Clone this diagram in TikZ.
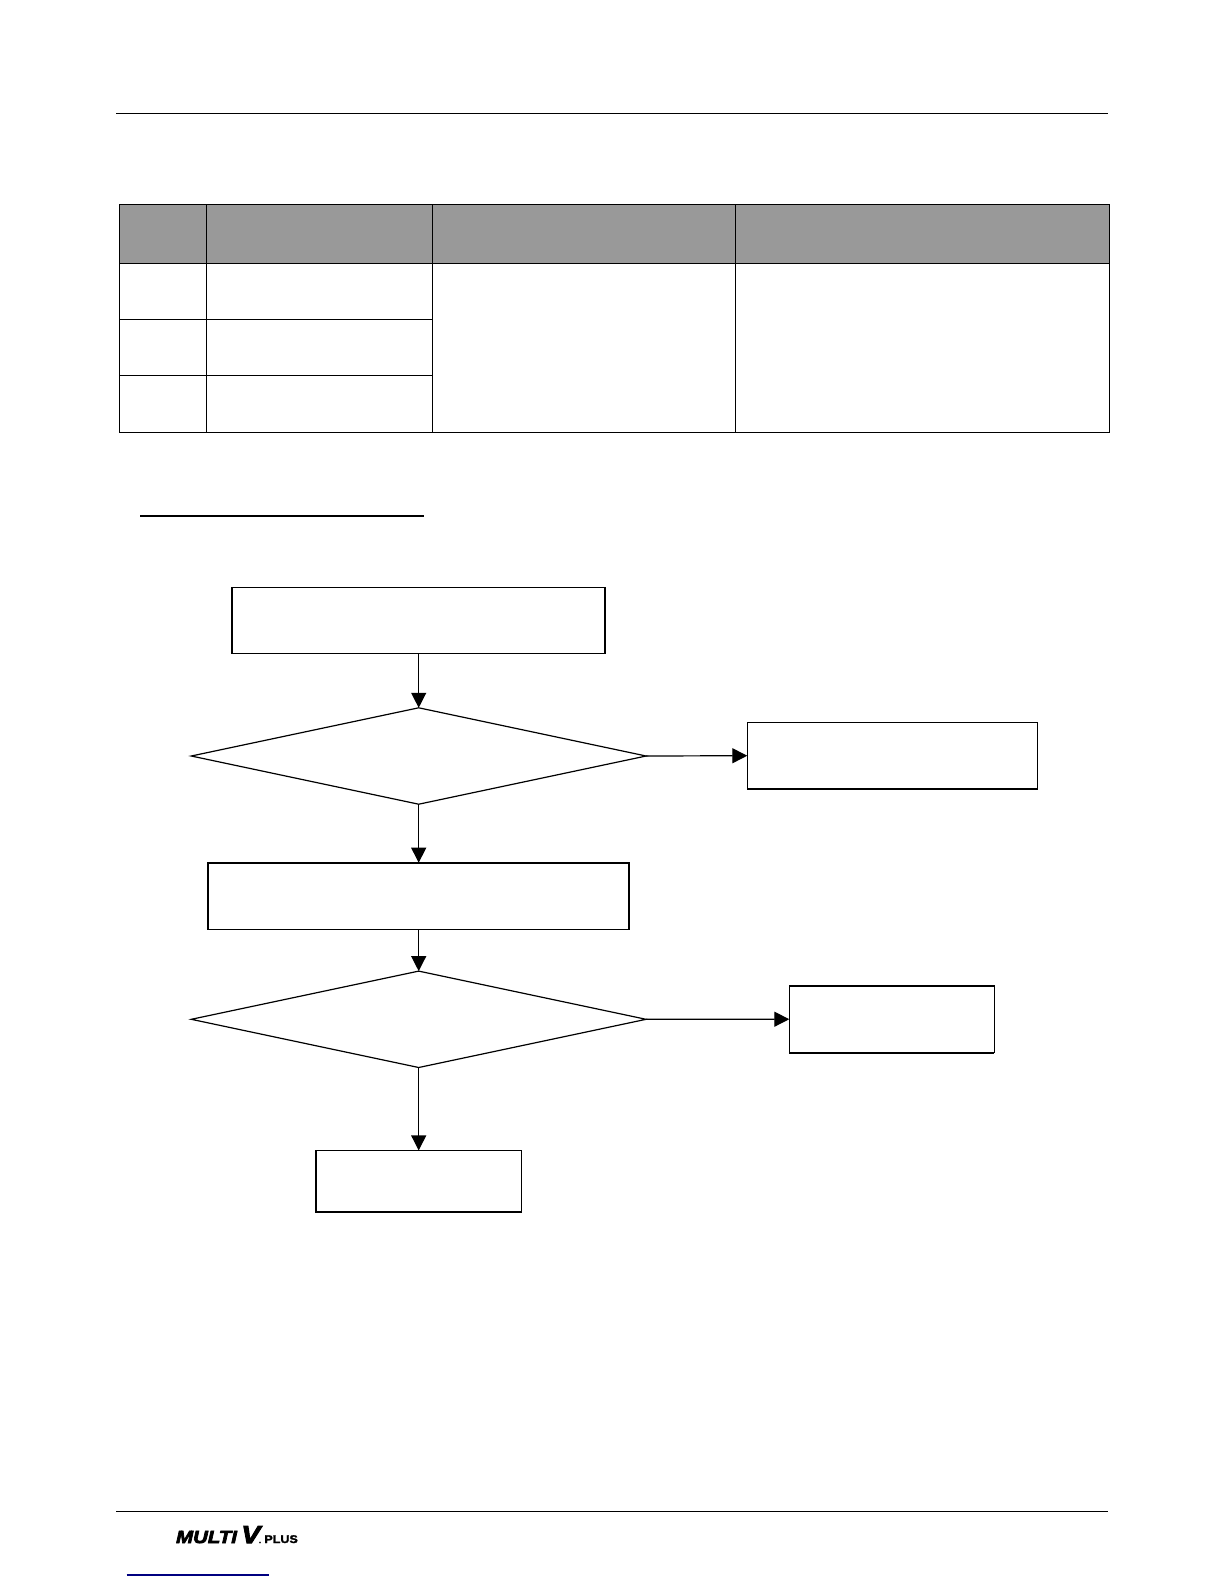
\documentclass[tikz,border=0pt]{standalone}
\usepackage{fontspec}
\setmainfont{Liberation Sans}
\newfontfamily\logofont[BoldItalicFeatures={FakeBold=4,FakeStretch=1.16}]{Liberation Sans}
\newfontfamily\logosub[BoldFeatures={FakeBold=2,FakeStretch=1.12}]{Liberation Sans}
\usetikzlibrary{shapes.geometric,arrows.meta}
\tikzset{
  x=0.5bp,y=-0.5bp,
  rulel/.style={line width=0.55bp,black},
  cell/.style={line width=0.55bp,black},
  flowbox/.style={draw=black,line width=0.6bp,fill=white,rectangle,inner sep=0pt,outer sep=0pt},
  decision/.style={draw=black,line width=0.6bp,diamond,inner sep=0pt,outer sep=0pt,minimum width=227.4bp,minimum height=48.2bp},
  flowarrow/.style={line width=0.6bp,black,-{Triangle[length=7.5bp,width=7.5bp]}},
  thickedge/.style={line width=1.05bp,black,line join=miter},
  logotext/.style={inner sep=0pt,anchor=base west,font=\logofont\bfseries\itshape},
  subtext/.style={inner sep=0pt,anchor=base west,font=\logosub\bfseries}
}
\begin{document}
\begin{tikzpicture}
\useasboundingbox (0,0) rectangle (1224,1584);
% page rules
\draw[rulel] (116,113.3) -- (1108,113.3);
\draw[rulel] (116,1511.3) -- (1108,1511.3);
% table
\fill[black!40] (119.3,204.3) rectangle (1109.3,263.3);
\draw[cell] (119.3,204.3) rectangle (1109.3,432.3);
\draw[cell] (119.3,263.3) -- (1109.3,263.3);
\draw[cell] (119.3,319.3) -- (432.3,319.3);
\draw[cell] (119.3,375.3) -- (432.3,375.3);
\draw[cell] (206.3,204.3) -- (206.3,432.3);
\draw[cell] (432.3,204.3) -- (432.3,432.3);
\draw[cell] (735.3,204.3) -- (735.3,432.3);
% underline
\draw[line width=1.05bp,black] (140,515.7) -- (424,515.7);
% flow
\node[flowbox,minimum width=186.8bp,minimum height=33bp] (start) at (418.5,620.3) {};
\node[decision] (d1) at (418.7,756) {};
\node[flowbox,minimum width=145.2bp,minimum height=33.4bp] (r1) at (892.5,755.7) {};
\node[flowbox,minimum width=210.8bp,minimum height=33.3bp] (mid) at (418.5,896) {};
\node[decision] (d2) at (418.7,1019.3) {};
\node[flowbox,minimum width=102.5bp,minimum height=33.5bp] (r2) at (891.8,1019.2) {};
\node[flowbox,minimum width=102.8bp,minimum height=30.8bp] (end) at (418.5,1181.2) {};
\draw[flowarrow] (start.south -| d1.north) -- (d1.north);
\draw[flowarrow] (d1.east) -- (r1.west);
\draw[flowarrow] (d1.south) -- (mid.north -| d1.south);
\draw[flowarrow] (mid.south -| d2.north) -- (d2.north);
\draw[flowarrow] (d2.east) -- (r2.west);
\draw[flowarrow] (d2.south) -- (end.north -| d2.south);
% heavier box edges
\draw[thickedge] (start.south west) -- (start.north west);
\draw[thickedge] (start.south east) -- (start.north east);
\draw[thickedge] (r1.south west) -- (r1.south east);
\draw[thickedge] (mid.south west) -- (mid.north west) -- (mid.north east) -- (mid.south east);
\draw[thickedge] (r2.north west) -- (r2.north east);
\draw[thickedge] (r2.south west) -- (r2.south east);
\draw[thickedge] (end.north west) -- (end.south west) -- (end.south east);
% logo
\node[logotext] (logom) at (175.7,1543) {\fontsize{8.8bp}{8.8bp}\selectfont MULTI};
\node[logotext] (logov) at (241,1543) {\fontsize{12.2bp}{12.2bp}\selectfont V};
\node[subtext] (logod) at (258.5,1543) {\fontsize{3.5bp}{3.5bp}\selectfont .};
\node[subtext] (logop) at (264,1543) {\fontsize{5.6bp}{5.6bp}\selectfont PLUS};
% link underline
\draw[line width=0.55bp,blue!50!black] (126.7,1575) -- (269,1575);
\end{tikzpicture}
\end{document}
